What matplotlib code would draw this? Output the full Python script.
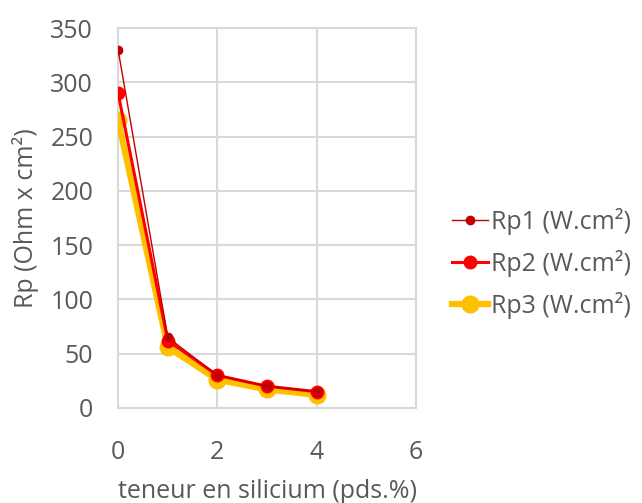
import matplotlib
matplotlib.use("Agg")
import matplotlib.pyplot as plt

# teneur en silicium (pds.%)
silicium = [0, 1, 2, 3, 4]
rp1 = [330, 65, 30, 20, 15]
rp2 = [290, 62, 30, 20, 15]
rp3 = [265, 56, 26, 17, 12]
labels = ["Rp1 (W.cm²)", "Rp2 (W.cm²)", "Rp3 (W.cm²)"]

grey = "#595959"
plt.rcParams["font.family"] = ["Open Sans", "DejaVu Sans"]

fig = plt.figure(figsize=(6.42, 5.03), dpi=100)
ax = fig.add_axes([0.184, 0.189, 0.464, 0.755])

ax.plot(silicium, rp1, color="#C00000", lw=1, marker="o", ms=6, label=labels[0], zorder=5)
ax.plot(silicium, rp2, color="#FF0000", lw=2.2, marker="o", ms=9, label=labels[1], zorder=4)
ax.plot(silicium, rp3, color="#FFC000", lw=4.5, marker="o", ms=12, label=labels[2], zorder=3)

ax.set_xlim(0, 6)
ax.set_ylim(0, 350)
ax.set_xticks([0, 2, 4, 6])
ax.set_yticks(range(0, 351, 50))
ax.grid(True, color="#D9D9D9", lw=1.5)
ax.set_axisbelow(True)
for s in ax.spines.values():
    s.set_color("#D9D9D9")
    s.set_linewidth(1.5)
ax.tick_params(length=0, labelsize=18, labelcolor=grey)
ax.tick_params(axis="y", pad=18)
ax.tick_params(axis="x", pad=23)

ax.set_xlabel("teneur en silicium (pds.%)", fontsize=18, color=grey, labelpad=10)
ax.set_ylabel("Rp (Ohm x cm²)", fontsize=18, color=grey, labelpad=8)

leg = ax.legend(loc="center left", bbox_to_anchor=(1.12, 0.38), frameon=False,
                fontsize=18, labelcolor=grey, handlelength=1.45, handletextpad=0.1,
                labelspacing=0.6, borderaxespad=0, borderpad=0)

fig.savefig("out.png", dpi=100)
